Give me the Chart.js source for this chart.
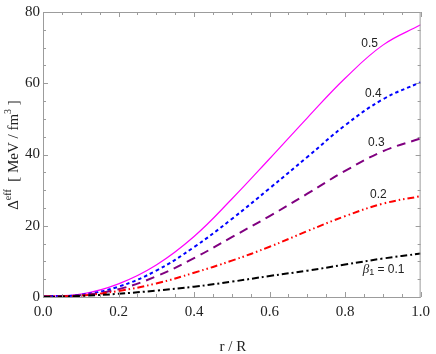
<!DOCTYPE html>
<html lang="en">
<head>
<meta charset="UTF-8" />
<title>Effective anisotropy</title>
<script src="https://cdn.jsdelivr.net/npm/chart.js"></script>
<style>
  html, body { margin: 0; padding: 0; background: #fff; }
</style>
</head>
<body>
<canvas id="chart" width="436" height="354"></canvas>
<script>
  // r / R sample points and curve values
  const rValues = [0, 0.1, 0.2, 0.3, 0.4, 0.5, 0.6, 0.7, 0.8, 0.9, 1.0];
  const beta05 = [0.2, 0.8, 3.7, 9.0, 17.0, 27.5, 38.8, 50.3, 61.4, 70.7, 76.4];
  const beta04 = [0.2, 0.6, 2.9, 7.4, 14.0, 21.9, 30.5, 39.3, 48.2, 55.5, 60.3];
  const beta03 = [0.2, 0.5, 2.2, 5.8, 10.9, 16.8, 22.7, 29.0, 35.4, 40.9, 44.5];
  const beta02 = [0.1, 0.4, 1.7, 3.8, 6.8, 10.2, 14.1, 18.5, 22.7, 26.2, 28.3];
  const beta01 = [0.0, 0.3, 0.9, 1.8, 2.9, 4.3, 5.9, 7.4, 9.1, 10.8, 12.2];

  const xTicks = [0, 0.2, 0.4, 0.6, 0.8, 1.0];
  const yTicks = [0, 20, 40, 60, 80];
  const curveLabels = ["0.5", "0.4", "0.3", "0.2", "0.1"];

  function pts(vals) {
    return rValues.map((r, i) => ({ x: r, y: vals[i] }));
  }

  const series = [
    { vals: beta01, color: "#000000", dash: [7, 3, 2, 3], width: 2 },
    { vals: beta02, color: "#ff0000", dash: [7, 3, 1.5, 3, 1.5, 3], width: 2 },
    { vals: beta03, color: "#800080", dash: [9, 6], width: 2 },
    { vals: beta04, color: "#0000ff", dash: [3.5, 3], width: 2 },
    { vals: beta05, color: "#ff00ff", dash: [], width: 1.2 }
  ];

  // where the curve labels sit, in data units
  const labelSpots = [
    { x: 0.902, y: 7.8 },
    { x: 0.888, y: 28.7 },
    { x: 0.883, y: 43.2 },
    { x: 0.875, y: 57.1 },
    { x: 0.865, y: 71.1 }
  ];

  const serif = '"Liberation Serif", "Times New Roman", serif';
  const sans = '"Liberation Sans", Arial, sans-serif';

  function drawParts(ctx, parts, cx, cy) {
    let total = 0;
    parts.forEach(p => {
      ctx.font = p.font;
      p.w = ctx.measureText(p.t).width;
      total += p.w;
    });
    let pos = cx - total / 2;
    parts.forEach(p => {
      ctx.font = p.font;
      ctx.fillText(p.t, pos, cy + (p.dy || 0));
      pos += p.w;
    });
  }

  const framePlugin = {
    id: "frame",
    afterDraw(chart) {
      const { ctx, chartArea: a, scales } = chart;
      const sx = scales.x, sy = scales.y;
      ctx.save();
      ctx.strokeStyle = "#9c9c9c";
      ctx.lineWidth = 1;
      ctx.strokeRect(a.left + 0.5, a.top + 0.5, a.right - a.left - 1, a.bottom - a.top);

      ctx.beginPath();
      for (let i = 0; i <= 20; i++) {
        const v = i * 0.05;
        const px = Math.round(sx.getPixelForValue(v)) + 0.5;
        const len = i % 4 === 0 ? 5 : 3;
        ctx.moveTo(px, a.bottom); ctx.lineTo(px, a.bottom - len);
        ctx.moveTo(px, a.top); ctx.lineTo(px, a.top + len);
      }
      for (let i = 0; i <= 16; i++) {
        const v = i * 5;
        const py = Math.round(sy.getPixelForValue(v)) + 0.5;
        const len = i % 4 === 0 ? 5 : 3;
        ctx.moveTo(a.left, py); ctx.lineTo(a.left + len, py);
        ctx.moveTo(a.right, py); ctx.lineTo(a.right - len, py);
      }
      ctx.stroke();

      // curve labels
      ctx.fillStyle = "#222";
      ctx.textBaseline = "middle";
      ctx.textAlign = "left";
      labelSpots.forEach((s, i) => {
        const px = sx.getPixelForValue(s.x);
        const py = sy.getPixelForValue(s.y);
        if (i === 0) {
          drawParts(ctx, [
            { t: "\u03b2", font: "italic 13px " + serif },
            { t: "1", font: "9px " + sans, dy: 3 },
            { t: " = " + curveLabels[4], font: "12px " + sans }
          ], px, py);
        } else {
          drawParts(ctx, [{ t: curveLabels[4 - i], font: "12px " + sans }], px, py);
        }
      });

      // axis titles
      ctx.fillStyle = "#222";
      ctx.textBaseline = "alphabetic";
      drawParts(ctx, [{ t: "r / R", font: "15px " + serif }], (a.left + a.right) / 2 + 1, 351);

      ctx.save();
      ctx.translate(18, 155);
      ctx.rotate(-Math.PI / 2);
      drawParts(ctx, [
        { t: "\u0394", font: "15px " + serif },
        { t: "eff", font: "10px " + serif, dy: -7 },
        { t: "  [ MeV / fm", font: "15px " + serif },
        { t: "3", font: "10px " + serif, dy: -7 },
        { t: " ]", font: "15px " + serif }
      ], 0, 0);
      ctx.restore();
      ctx.restore();
    }
  };

  const ctx = document.getElementById("chart").getContext("2d");
  const chart = new Chart(ctx, {
    type: "line",
    data: {
      datasets: series.map(s => ({
        data: pts(s.vals),
        borderColor: s.color,
        borderWidth: s.width,
        borderDash: s.dash,
        pointRadius: 0,
        fill: false,
        tension: 0.4
      }))
    },
    options: {
      responsive: false,
      animation: false,
      events: [],
      layout: { padding: { top: 10, right: 9, left: 0, bottom: 0 } },
      plugins: { legend: { display: false }, tooltip: { enabled: false } },
      scales: {
        x: {
          type: "linear",
          min: 0,
          max: 1,
          afterBuildTicks: sc => { sc.ticks = xTicks.map(v => ({ value: v })); },
          afterFit: sc => { sc.height = 57; },
          grid: { display: false, drawTicks: false },
          border: { display: false },
          ticks: {
            padding: 6,
            color: "#222",
            font: { family: serif, size: 15 },
            maxRotation: 0,
            callback: v => Number(v).toFixed(1)
          }
        },
        y: {
          type: "linear",
          min: 0,
          max: 80,
          afterBuildTicks: sc => { sc.ticks = yTicks.map(v => ({ value: v })); },
          afterFit: sc => { sc.width = 43; },
          grid: { display: false, drawTicks: false },
          border: { display: false },
          ticks: {
            padding: 3,
            color: "#222",
            font: { family: serif, size: 15 }
          }
        }
      }
    },
    plugins: [framePlugin]
  });
</script>
</body>
</html>
